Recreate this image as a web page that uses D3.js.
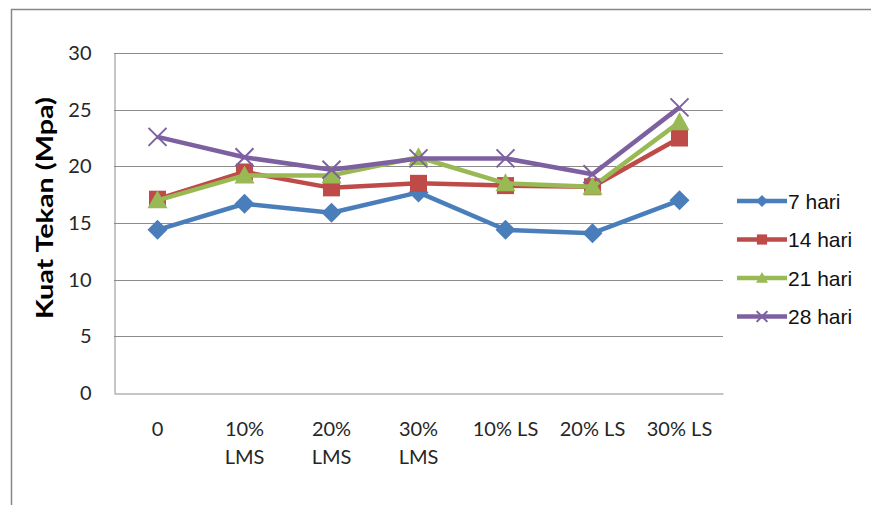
<!DOCTYPE html>
<html>
<head>
<meta charset="utf-8">
<script src="https://cdn.jsdelivr.net/npm/d3@7"></script>
<style>
  html, body { margin: 0; padding: 0; background: #fff; }
  svg { display: block; }
</style>
</head>
<body>
<svg id="chart" width="871" height="505"></svg>
<script>
// Compressive strength per mix variant, one series per curing age
const categories = [["0"], ["10%", "LMS"], ["20%", "LMS"], ["30%", "LMS"], ["10% LS"], ["20% LS"], ["30% LS"]];
const seriesNames = ["7 hari", "14 hari", "21 hari", "28 hari"];
const hari7  = [14.4, 16.7, 15.9, 17.7, 14.4, 14.1, 17.0];
const hari14 = [17.1, 19.5, 18.1, 18.5, 18.3, 18.2, 22.5];
const hari21 = [17.0, 19.2, 19.2, 20.8, 18.5, 18.2, 23.9];
const hari28 = [22.6, 20.8, 19.7, 20.7, 20.7, 19.3, 25.2];
const yTicks = [0, 5, 10, 15, 20, 25, 30];
const yLabel = "Kuat Tekan (Mpa)";

const seriesValues = [hari7, hari14, hari21, hari28];
const colors = ["#4A7EBB", "#BE4B48", "#98B954", "#7D60A0"];
const markers = ["diamond", "square", "triangle", "cross"];

const tickFont = "Lato, 'Open Sans', sans-serif";
const svg = d3.select("#chart");
const plot = { left: 114, right: 723, top: 53, bottom: 393 };

// outer chart frame (clipped by the canvas on the right and bottom)
svg.append("rect")
  .attr("x", 11.5).attr("y", 9.5).attr("width", 900).attr("height", 600)
  .attr("fill", "none").attr("stroke", "#878787").attr("stroke-width", 1.5);

const x = d3.scaleBand()
  .domain(categories.map((d, i) => i))
  .range([plot.left, plot.right]);
const y = d3.scaleLinear().domain([0, 30]).range([plot.bottom, plot.top]);

// horizontal gridlines
svg.append("g")
  .selectAll("line")
  .data(yTicks.filter(t => t > 0))
  .join("line")
  .attr("x1", plot.left).attr("x2", plot.right)
  .attr("y1", d => Math.round(y(d)) + 0.5).attr("y2", d => Math.round(y(d)) + 0.5)
  .attr("stroke", "#8c8c8c").attr("stroke-width", 1);

// y axis
const yAxis = svg.append("g")
  .attr("transform", `translate(${plot.left + 0.5},0)`)
  .call(d3.axisLeft(y).tickValues(yTicks).tickSize(0).tickPadding(23));
yAxis.select(".domain").attr("stroke", "#8c8c8c");
yAxis.selectAll("text")
  .attr("font-family", tickFont)
  .attr("font-size", 20).attr("fill", "#262626");

// x axis
const xAxis = svg.append("g")
  .attr("transform", `translate(0,${Math.round(plot.bottom) + 0.5})`)
  .call(d3.axisBottom(x).tickSize(0).tickFormat(() => ""));
xAxis.select(".domain").attr("stroke", "#8c8c8c");
xAxis.selectAll(".tick").each(function(d) {
  const t = d3.select(this).select("text")
    .attr("font-family", tickFont)
    .attr("font-size", 20).attr("fill", "#262626")
    .attr("y", 0).attr("dy", 0);
  categories[d].forEach((line, k) => {
    t.append("tspan").attr("x", 0).attr("y", 42 + k * 28).text(line);
  });
});

// y axis title
svg.append("text")
  .attr("transform", "translate(53,208) rotate(-90)")
  .attr("text-anchor", "middle")
  .attr("font-family", tickFont)
  .attr("font-weight", "bold").attr("font-size", 23).attr("fill", "#000")
  .attr("textLength", 222).attr("lengthAdjust", "spacingAndGlyphs")
  .text(yLabel);

const cx = i => x(i) + x.bandwidth() / 2;

function drawMarker(g, kind, color, s) {
  if (kind === "diamond") {
    g.append("path").attr("d", `M0,${-s}L${s},0L0,${s}L${-s},0Z`).attr("fill", color);
  } else if (kind === "square") {
    const h = s * 0.85;
    g.append("rect").attr("x", -h).attr("y", -h).attr("width", 2 * h).attr("height", 2 * h).attr("fill", color);
  } else if (kind === "triangle") {
    const h = s;
    g.append("path").attr("d", `M0,${-h}L${h},${h * 0.8}L${-h},${h * 0.8}Z`).attr("fill", color);
  } else {
    const h = s * 0.9;
    g.append("path").attr("d", `M${-h},${-h}L${h},${h}M${-h},${h}L${h},${-h}`)
      .attr("stroke", color).attr("stroke-width", 2).attr("fill", "none");
  }
}

const line = d3.line().x((d, i) => cx(i)).y(d => y(d));

seriesValues.forEach((vals, si) => {
  const g = svg.append("g");
  g.append("path").datum(vals)
    .attr("d", line)
    .attr("fill", "none").attr("stroke", colors[si])
    .attr("stroke-width", 4.5).attr("stroke-linejoin", "round");
  vals.forEach((v, i) => {
    const m = g.append("g").attr("transform", `translate(${cx(i)},${y(v)})`);
    drawMarker(m, markers[si], colors[si], 10);
  });
});

// legend
const legend = svg.append("g");
seriesNames.forEach((name, si) => {
  const ly = 201 + si * 38.5;
  const row = legend.append("g").attr("transform", `translate(737,${ly})`);
  row.append("line").attr("x1", 0).attr("x2", 50).attr("y1", 0).attr("y2", 0)
    .attr("stroke", colors[si]).attr("stroke-width", 4.5);
  const m = row.append("g").attr("transform", "translate(25,0)");
  drawMarker(m, markers[si], colors[si], 6);
  row.append("text").attr("x", 51).attr("y", 0).attr("dy", "0.36em")
    .attr("font-family", "'Liberation Sans', Arial, sans-serif")
    .attr("font-size", 21).attr("fill", "#111")
    .text(name);
});
</script>
</body>
</html>
